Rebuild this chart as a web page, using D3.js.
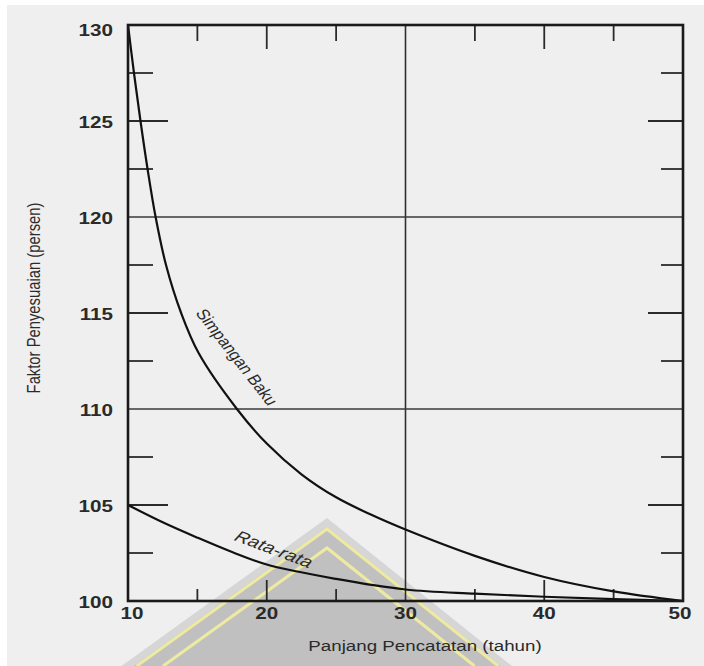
<!DOCTYPE html>
<html>
<head>
<meta charset="utf-8">
<script src="https://cdn.jsdelivr.net/npm/d3@7"></script>
<style>
  html, body { margin: 0; padding: 0; background: #ffffff; }
  svg { display: block; }
  text { font-family: "Liberation Sans", Arial, sans-serif; fill: #2a2a2a; }
</style>
</head>
<body>
<svg id="chart" width="704" height="666"></svg>
<script>
// ---- data ----
const sbYears  = [10, 10.43, 10.9, 11.41, 11.99, 12.74, 13.83, 15.1, 17.85, 20, 22.5, 25, 27.5, 30, 35, 40, 45, 50];
const sbValues = [130, 127.5, 125, 122.5, 120, 117.5, 115, 112.9, 110, 108.2, 106.6, 105.4, 104.5, 103.72, 102.35, 101.25, 100.5, 100];
const rrYears  = [10, 12.5, 15, 17.5, 20, 25, 30, 35, 40, 45, 50];
const rrValues = [105, 104.1, 103.3, 102.55, 101.9, 101.15, 100.6, 100.38, 100.22, 100.1, 100];

const xTickLabels = [10, 20, 30, 40, 50];
const yTickLabels = [100, 105, 110, 115, 120, 125, 130];
const xGrid = [30];
const yGrid = [110, 120];
const xMajorTicks = [20, 40];
const xMinorTicks = [15, 25, 35, 45];
const yMajorTicks = [105, 115, 125];
const yMinorTicks = [102.5, 107.5, 112.5, 117.5, 122.5, 127.5];

const seriesLabels = ["Simpangan Baku", "Rata-rata"];
const xTitle = "Panjang Pencatatan (tahun)";
const yTitle = "Faktor Penyesuaian (persen)";

// ---- layout ----
const svg = d3.select("#chart");
const L = 128, R = 683, T = 25, B = 601;
const SX = 1.25; // horizontal stretch of the reference's lettering

const x = d3.scaleLinear().domain([10, 50]).range([L, R]);
const y = d3.scaleLinear().domain([100, 130]).range([B, T]);

// background
svg.append("rect").attr("x", 0).attr("y", 0).attr("width", 704).attr("height", 666).attr("fill", "#ffffff");
svg.append("rect").attr("x", 7).attr("y", 5).attr("width", 697).attr("height", 661).attr("fill", "#efefef");

// watermark (decorative logo behind the plot)
const wm = svg.append("g");
const apex = [327, 518];
function chevron(dy, sl, sr) {
  const ax = apex[0], ay = apex[1] + dy;
  return [[ax - (666 - ay) / sl, 666], [ax, ay], [ax + (666 - ay) / sr, 666]];
}
wm.append("polygon").attr("points", chevron(0, 0.72, 0.8).join(" ")).attr("fill", "#d6d6d6");
wm.append("polygon").attr("points", chevron(9, 0.72, 0.8).join(" ")).attr("fill", "#c0c0c0");
wm.append("polyline").attr("points", chevron(11, 0.72, 0.8).join(" ")).attr("fill", "none")
  .attr("stroke", "#efeaa2").attr("stroke-width", 3);
wm.append("polyline").attr("points", chevron(30, 0.72, 0.8).join(" ")).attr("fill", "none")
  .attr("stroke", "#efeaa2").attr("stroke-width", 3);

// grid lines
const g = svg.append("g");
g.selectAll(".gx").data(xGrid).join("line")
  .attr("x1", d => x(d)).attr("x2", d => x(d)).attr("y1", T).attr("y2", B)
  .attr("stroke", "#2f2f2f").attr("stroke-width", 1.6);
g.selectAll(".gy").data(yGrid).join("line")
  .attr("x1", L).attr("x2", R).attr("y1", d => y(d)).attr("y2", d => y(d))
  .attr("stroke", "#3a3a3a").attr("stroke-width", 1.6);

// inner ticks on all four sides
function vTicks(vals, len, side) {
  g.selectAll(null).data(vals).join("line")
    .attr("x1", d => x(d)).attr("x2", d => x(d))
    .attr("y1", side === "top" ? T : B)
    .attr("y2", side === "top" ? T + len : B - len)
    .attr("stroke", "#2a2a2a").attr("stroke-width", 1.8);
}
function hTicks(vals, len, side) {
  g.selectAll(null).data(vals).join("line")
    .attr("y1", d => y(d)).attr("y2", d => y(d))
    .attr("x1", side === "left" ? L : R)
    .attr("x2", side === "left" ? L + len : R - len)
    .attr("stroke", "#2a2a2a").attr("stroke-width", 1.8);
}
vTicks(xMajorTicks, 24, "top");
vTicks(xMinorTicks, 16, "top");
vTicks(xMajorTicks, 21, "bottom");
vTicks(xMinorTicks, 12, "bottom");
hTicks(yMajorTicks, 40, "left");
hTicks(yMinorTicks, 25, "left");
hTicks(yMajorTicks, 35, "right");
hTicks(yMinorTicks, 22, "right");

// curves
const line = d3.line().x(d => x(d[0])).y(d => y(d[1])).curve(d3.curveCatmullRom.alpha(0.5));
const sbData = sbYears.map((v, i) => [v, sbValues[i]]);
const rrData = rrYears.map((v, i) => [v, rrValues[i]]);
g.append("path").datum(sbData).attr("d", line).attr("fill", "none")
  .attr("stroke", "#111").attr("stroke-width", 2.2);
g.append("path").datum(rrData).attr("d", line).attr("fill", "none")
  .attr("stroke", "#111").attr("stroke-width", 2.2);

// frame
g.append("rect").attr("x", L).attr("y", T).attr("width", R - L).attr("height", B - T)
  .attr("fill", "none").attr("stroke", "#1a1a1a").attr("stroke-width", 2.6);

// stretched text helper
function stext(px, py, rot, str, size, opts = {}) {
  const t = svg.append("text")
    .attr("transform", `translate(${px},${py}) scale(${SX},1) rotate(${rot})`)
    .attr("text-anchor", opts.anchor || "middle")
    .attr("dy", opts.dy || "0.35em")
    .style("font-size", size + "px")
    .text(str);
  if (opts.weight) t.style("font-weight", opts.weight);
  if (opts.style) t.style("font-style", opts.style);
  if (opts.family) t.style("font-family", opts.family);
  return t;
}

// tick labels
yTickLabels.forEach(v => {
  stext(113, y(v) + (v === 130 ? 5 : 1), 0, String(v), 16.5, { anchor: "end", weight: 600 });
});
xTickLabels.forEach((v, i) => {
  stext(x(v) + (i === 0 ? 4 : (i === 4 ? -3 : 0)), 613, 0, String(v), 16.5, { weight: 600 });
});

// axis titles
stext(425, 646, 0, xTitle, 15);
stext(34, 298, -90, yTitle, 14.8);

// curve labels
stext(237, 357, 58, seriesLabels[0], 14.5);
stext(274, 549, 25, seriesLabels[1], 16, { style: "italic" });
</script>
</body>
</html>
